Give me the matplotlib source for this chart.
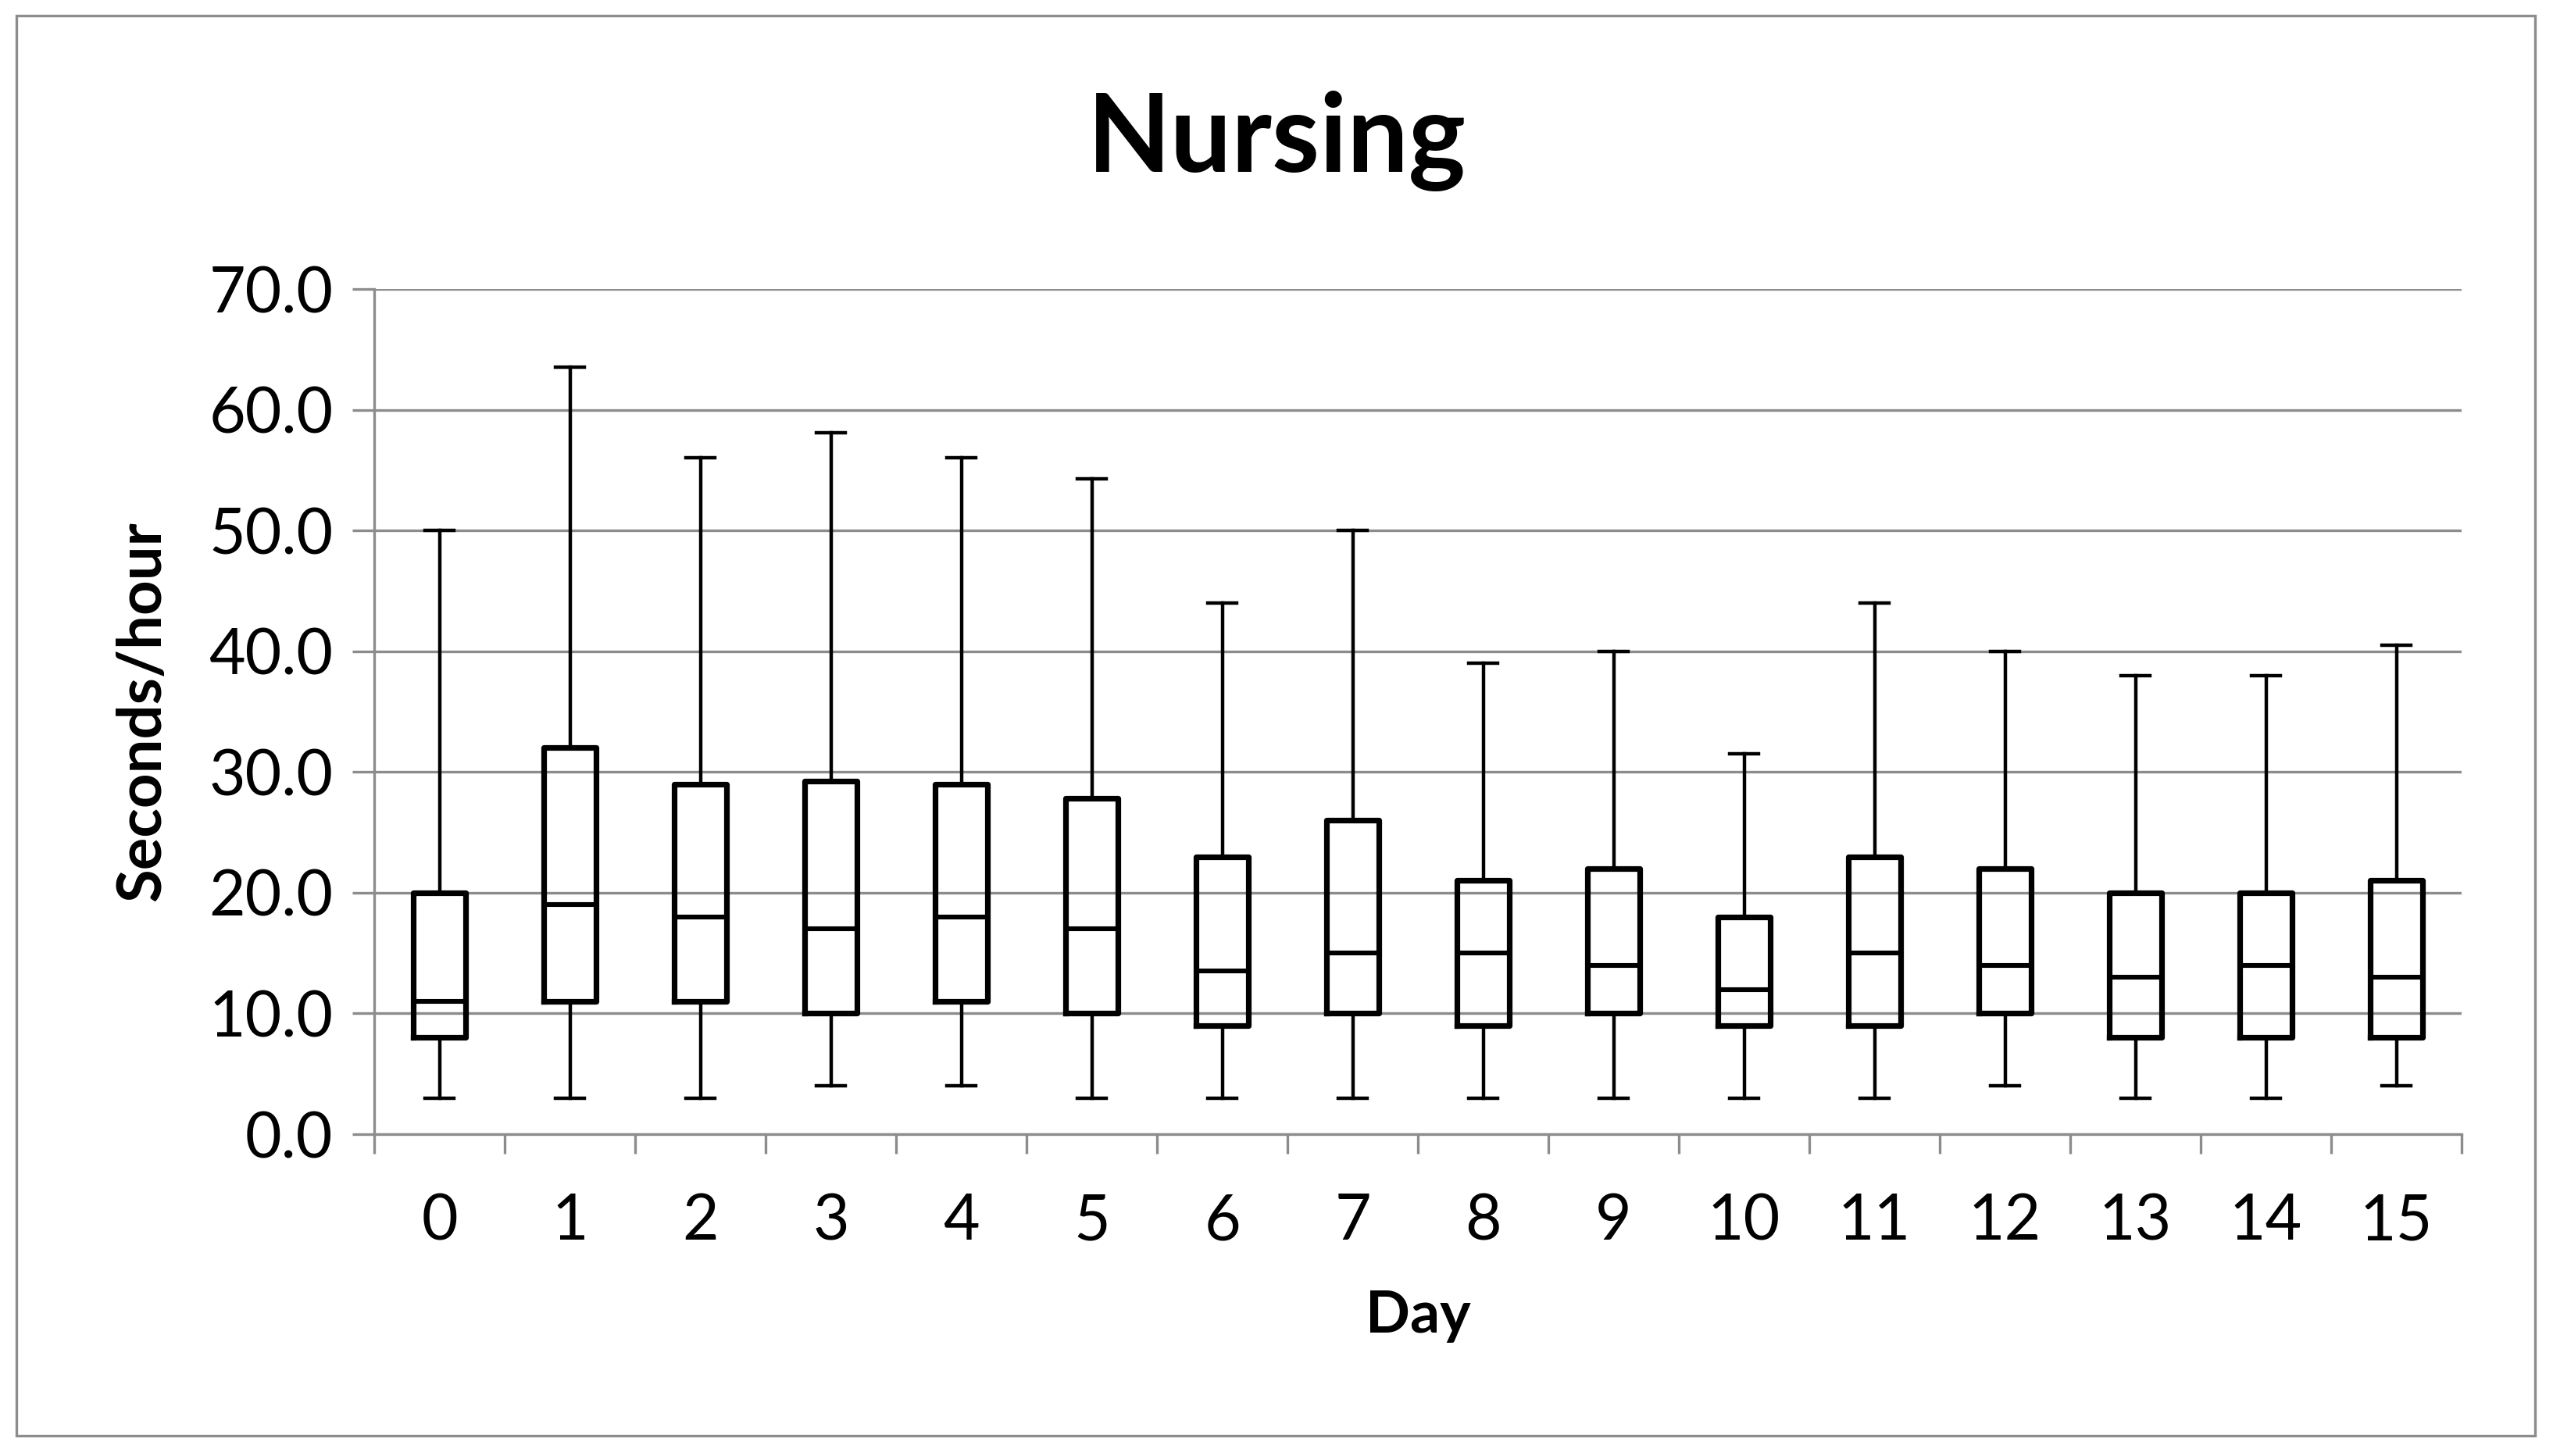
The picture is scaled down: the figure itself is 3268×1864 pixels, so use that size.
import matplotlib.pyplot as plt
from matplotlib.patches import Rectangle
import numpy as np

days = list(range(16))
whis_low = [3, 3, 3, 4, 4, 3, 3, 3, 3, 3, 3, 3, 4, 3, 3, 4]
q1 = [8, 11, 11, 10, 11, 10, 9, 10, 9, 10, 9, 9, 10, 8, 8, 8]
median = [11, 19, 18, 17, 18, 17, 13.5, 15, 15, 14, 12, 15, 14, 13, 14, 13]
q3 = [20, 32, 29, 29.25, 29, 27.8, 23, 26, 21, 22, 18, 23, 22, 20, 20, 21]
whis_high = [50, 63.5, 56, 58.1, 56, 54.3, 44, 50, 39, 40, 31.5, 44, 40, 38, 38, 40.5]

plt.rcParams['font.family'] = ['Lato', 'DejaVu Sans']
grid_col = '#8c8c8c'

fig = plt.figure(figsize=(16.34, 9.32), dpi=200)
ax = fig.add_axes([0.1466, 0.221, 0.9642 - 0.1466, 0.8015 - 0.221])

stats = []
for d, lo, a, m, b, hi in zip(days, whis_low, q1, median, q3, whis_high):
    stats.append(dict(label=str(d), whislo=lo, q1=a, med=m, q3=b, whishi=hi, fliers=[]))

ax.bxp(stats, positions=days, widths=0.4, capwidths=0.22, showfliers=False,
       boxprops=dict(color='black', linewidth=2.6),
       medianprops=dict(color='black', linewidth=2.2),
       whiskerprops=dict(color='black', linewidth=1.6),
       capprops=dict(color='black', linewidth=1.6))

ax.set_xlim(-0.5, 15.5)
ax.set_ylim(0, 70)
ax.set_yticks(np.arange(0, 71, 10))
ax.set_yticklabels([f"{v:.1f}" for v in np.arange(0, 71, 10)])
ax.yaxis.grid(True, color=grid_col, linewidth=1.2)
ax.set_axisbelow(True)

ax.set_xticks(days)
ax.set_xticklabels([str(d) for d in days])
ax.set_xticks(np.arange(-0.5, 16, 1), minor=True)
ax.tick_params(axis='x', which='major', length=0, pad=27, labelsize=29)
ax.tick_params(axis='x', which='minor', length=9, width=1.2, color=grid_col)
ax.tick_params(axis='y', which='major', length=10, width=1.2, color=grid_col, pad=9, labelsize=29)

for s in ['top', 'right']:
    ax.spines[s].set_visible(False)
for s in ['left', 'bottom']:
    ax.spines[s].set_color(grid_col)
    ax.spines[s].set_linewidth(1.2)

ax.set_xlabel('Day', fontsize=27, fontweight='bold')
ax.xaxis.set_label_coords(0.5, -0.2144)
ax.xaxis.label.set_va('center')
ax.set_ylabel('Seconds/hour', fontsize=28, fontweight='bold')
ax.yaxis.set_label_coords(-0.1108, 0.5)
ax.yaxis.label.set_va('center')

fig.text(0.5, 0.903, 'Nursing', ha='center', va='center', fontsize=50, fontweight='bold')

fig.patches.append(Rectangle((21 / 3268, 1 - 1838 / 1864), (3245 - 21) / 3268, (1838 - 20) / 1864,
                             transform=fig.transFigure, fill=False, edgecolor=grid_col, linewidth=1.2))

fig.savefig('out.png', dpi=200)
